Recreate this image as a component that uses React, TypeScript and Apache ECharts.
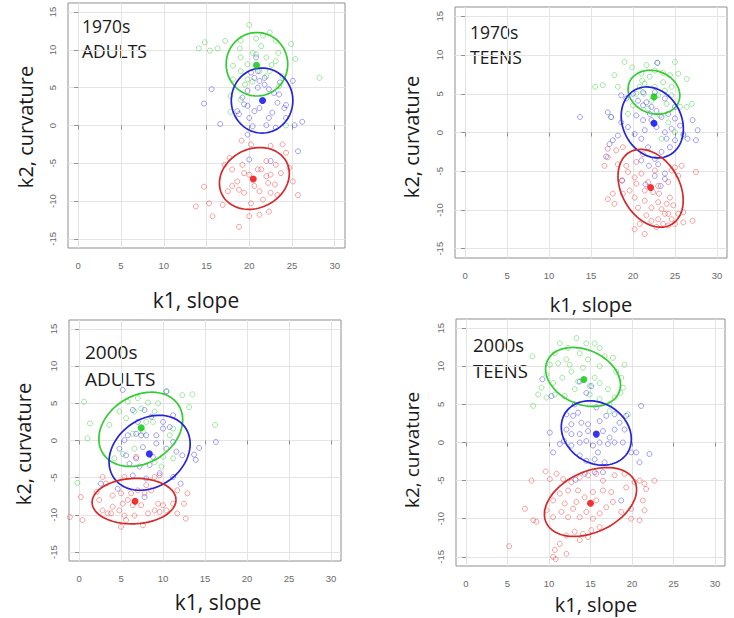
import React, { useEffect, useRef } from "react";
import * as echarts from "echarts";

// ---------- tick labels / texts ----------
const xTicks = [0, 5, 10, 15, 20, 25, 30];
const yTicks = [-15, -10, -5, 0, 5, 10, 15];
const panelDecades = ["1970s", "1970s", "2000s", "2000s"];
const panelGroups = ["ADULTS", "TEENS", "ADULTS", "TEENS"];
const xTitle = "k1, slope";
const yTitle = "k2, curvature";

// ---------- 1970s ADULTS ----------
const adults1970Green = [
  [20, 13.3], [14.1, 10.2], [14.8, 11], [15.4, 9.9], [16.3, 10.2], [17.2, 11.2], [18.9, 10.2],
  [22.4, 12.3], [21.6, 11.9], [23.1, 11.2], [24.9, 10.8], [25.4, 8.8], [28.2, 6.3], [19, 9],
  [19.8, 8.1], [20.4, 9.6], [20.8, 9.4], [22, 9], [22.6, 8], [21.2, 7.2], [22, 6.5], [19, 7.2],
  [18.1, 6.1], [17.8, 3.9], [17.8, 1.8], [19.5, 5.4], [23.5, 5.2], [23.9, 6.5], [24.3, 0],
  [19, 3.4], [19.8, 6.1], [23.1, 8.5], [21.4, 10.5], [18.1, 7.9], [20.4, 5.8], [22.4, 7.2],
  [23.4, 9.6], [19, 11.2], [20.8, 11.5],
];
const adults1970Blue = [
  [15.6, 4.8], [14.7, 2.9], [16.6, 0.2], [18.8, 1.5], [19.4, 2.8], [19.8, 2.6], [20, 1], [20.6, 1.9],
  [21.2, 2.3], [22.3, 1], [22.7, 1.7], [23.3, 3], [24.1, 2.3], [24.3, 1], [25.3, 0.04], [26.2, 0.5],
  [24.3, 2.7], [23.5, 4.1], [22.9, 4.3], [22.3, 4.8], [21.8, 5.4], [21.2, 5.9], [20.6, 6.3], [20.2, 7],
  [21, 7.2], [21.8, 6.3], [19.8, 4.6], [19.2, 3.7], [20.4, -0.1], [19.8, -1.2], [22, 0.04], [23.1, -0.3],
  [25.7, -3.4], [22.5, -4.7], [20, -4.5], [25.1, 5.9], [21, 5], [23.6, 5.7], [20.8, 9], [18.6, 1.9],
];
const adults1970Red = [
  [19.1, -2], [20.2, -2.5], [22.5, -2.7], [23.9, -2.5], [24.3, -3.6], [17.7, -4.3], [17.1, -5.2],
  [18, -5.8], [19.2, -5.2], [19.4, -6.3], [21.4, -5.8], [22, -4.7], [23.1, -5.2], [23.7, -6.3],
  [24.7, -5.6], [25.1, -7.4], [18.6, -7.4], [18.8, -8.5], [17.5, -8.7], [16.9, -10.5], [15.3, -10.3],
  [13.75, -10.7], [14.7, -8.1], [15.7, -12], [18.8, -13.4], [20, -12], [21.2, -11.8], [22.3, -11.4],
  [21.6, -9.8], [22.5, -8.9], [23.3, -9.2], [25.7, -9.2], [21.2, -8.7], [20.6, -8], [22.2, -7.6],
  [22, -6.7], [20, -6.5], [20.2, -10.3], [19.4, -8.9], [18, -8], [23, -7.8], [22.5, -6.5], [21, -5.8],
];
const adults1970Means = [[20.85, 7.97], [21.56, 3.3], [20.47, -7.08]];
// [centre x, centre y, semi-axis a, semi-axis b, angle of a in degrees]
const adults1970Ellipses = [[20.9, 8.1, 4.2, 3.6, 90], [21.5, 3.3, 4.3, 3.6, 90], [20.6, -7.0, 4.4, 3.75, 45]];

// ---------- 1970s TEENS ----------
const teens1970Green = [
  [19, 9.1], [19.9, 8.4], [22.9, 9], [25, 9.1], [21.6, 8.7], [17.8, 7.4], [18.2, 5.9], [15.5, 5.9],
  [16.4, 6.1], [21, 7.6], [22, 7.2], [23.6, 7.7], [24.4, 7.4], [25.4, 7.6], [26.4, 6.9], [23.6, 6.5],
  [22.6, 5.9], [21.4, 6.3], [20.4, 5], [23, 4.8], [24.6, 4.8], [25.6, 3.3], [26.4, 3.3], [27, 3.7],
  [24, 3.7], [22.2, 4.1], [21.8, 3.1], [23.2, 2.2], [24.2, 1.3], [19.4, 2.4], [20, 3.5], [24.6, 5.9],
  [22.6, 8], [20.8, 5.9], [25, 0.04], [26, -0.4], [23.4, -0.8], [21.3, 5], [23.8, 5.4], [21.1, 6.7],
  [17.4, 2],
];
const teens1970Blue = [
  [13.7, 2], [17, 2.6], [17.4, 2], [22.9, 9], [18.6, 4.8], [19.2, 4.4], [20, 5], [20.6, 4.1],
  [21.2, 3.5], [21.6, 3.9], [22.2, 3.3], [22, 2.4], [22.8, 2.8], [23.4, 2], [24.2, 2.4], [25, 1.8],
  [25.6, 0.9], [26, -0.2], [26.5, -0.8], [27.7, 0.3], [27.5, -1], [27.1, 1.6], [25, -1], [24.4, -1.9],
  [23.4, -2.5], [22.6, -3.4], [21.8, -1.9], [21, -0.8], [20.2, -0.2], [19.4, 0.7], [18.6, 1.3],
  [18.2, -0.4], [17.6, -1], [17.2, -1.5], [21, -3.6], [21.9, -4.3], [23, -4.1], [23.8, -5.3],
  [23.8, -6], [22.6, -5.6], [21.2, 1.6], [20.4, 2.2], [21.4, 0.3], [22.8, 0.7], [23.8, 0.04],
  [24, -0.8], [24.6, 0.5], [22.2, 1.6], [21.2, 5.2], [23.8, 4.4], [22.6, 5.2], [25, 3.3],
  [16.8, -3.1], [18.7, -6.2], [21.5, -6.7], [23.3, -6.9],
];
const teens1970Red = [
  [17, -2.1], [18, -2.3], [18.8, -1.9], [16.6, -4.3], [17, -3.2], [18.2, -4.1], [19.2, -4.3],
  [20.4, -3.8], [21.2, -2.8], [19.4, -5.1], [20.2, -5.8], [18.7, -6.2], [21, -5.3], [21.8, -6.4],
  [23, -6.9], [24.2, -6.4], [25, -4.5], [25.8, -4.3], [25.4, -5.6], [24.6, -4.9], [27.5, -5.1],
  [19.6, -7.5], [20.2, -8.4], [18.8, -7.9], [20.6, -9.7], [21.4, -8.8], [22.2, -9.7], [23, -9],
  [23.4, -9.9], [24, -9.2], [24.4, -8.4], [24.8, -9.4], [25.4, -10.5], [24.2, -10.5], [23, -11.2],
  [23.6, -11.8], [22.2, -11.4], [21.6, -10.7], [20.8, -11.8], [20.2, -12.5], [21.4, -13.1],
  [22.8, -12.2], [24.2, -12], [25, -11.8], [26, -11.6], [27.1, -11.4], [17.8, -9.2], [17.6, -7.9],
  [17, -8.6], [22.4, -7.7], [21.4, -7.5], [23.1, -7.9], [20.4, -6.6], [22.6, -4.9], [23.8, -10.5],
  [24.6, -11.2], [26, -10.3],
];
const teens1970Means = [[22.5, 4.6], [22.5, 1.2], [22.1, -7.1]];
const teens1970Ellipses = [[22.5, 5.2, 3.2, 2.7, 150], [22.3, 1.3, 4.7, 3.55, 110], [22.1, -7.2, 5.3, 3.5, 115]];

// ---------- 2000s ADULTS ----------
const adults2000Green = [
  [0.6, 5.2], [1.3, 2.3], [1, 0.3], [-0.2, -5.7], [3.6, 2.1], [5.8, 5.2], [7, 5.7], [8.2, 5.1],
  [9.4, 5], [10.4, 6.6], [12.3, 6.1], [13.5, 6.2], [13.1, 4.5], [16.2, 2.1], [11.2, 1.6], [10.8, 0.7],
  [9, 3.9], [8, 2.5], [6.6, 3.9], [5.6, 3], [10, -2.2], [11.2, -2.4], [9.8, -3.5], [9, -2.9],
  [6.6, -1.1], [5.2, -1.8], [4.2, -2.4], [6.4, 0.9], [7.4, 4.3], [8.8, 2.5], [7.6, 1.2], [4.8, 3.9],
];
const adults2000Blue = [
  [5.2, 6.8], [6.4, 4.1], [7.8, 4.1], [10.4, 6.6], [8.6, 3.2], [10, 2.5], [11.2, 3.4], [10.8, 1.8],
  [10, 1.6], [9.2, 0.7], [8, 0.7], [6.8, 0.9], [5.8, 0.7], [5.4, 0.04], [4.8, -1.1], [5.6, -2],
  [6.8, -2.4], [7.6, -0.9], [9.2, -0.4], [10.4, -1.1], [11.2, -0.2], [11.6, -1.5], [12.3, -2],
  [14.3, -1], [13.9, -2.6], [13.7, -1.9], [16.3, -0.2], [8.4, -3.3], [9.6, -4.4], [11.2, -4.9],
  [12.1, -5.8], [8, -5.1], [4.6, -6.5], [2.6, -5.8], [7.8, -7.6], [6.4, -4.7], [7.2, -3.5],
  [6, -3.1], [8.8, -2.2], [7, 2.5], [7.4, 0.7],
];
const adults2000Red = [
  [0.2, -7.6], [-1.1, -10.3], [0.4, -10.7], [2.1, -6.9], [3.2, -5.8], [2.4, -8], [2.8, -9.4],
  [3.4, -9.8], [4, -8.9], [4, -7.4], [5, -7.1], [5.2, -8.5], [4.8, -9.4], [5.4, -10.1], [5, -11.6],
  [5.8, -8], [6.4, -8.7], [6.2, -7.1], [7, -6.7], [8, -6], [9, -4.9], [9.6, -4.7], [8.6, -6.7],
  [7.8, -7.1], [7.4, -8.7], [8.2, -9.8], [9, -9.4], [9.4, -8.5], [10, -8.7], [10.4, -9.4], [9.6, -9.6],
  [11.2, -8.5], [11.7, -9.8], [12.7, -10.5], [12.5, -8.5], [12.9, -7.1], [11.7, -6.7], [6.6, -10.1],
  [7.6, -11.4], [5.6, -10.7], [3.8, -9.8], [6.8, -2.2], [5.4, -4.9], [2.8, -4.9],
];
const adults2000Means = [[7.4, 1.7], [8.37, -1.8], [6.67, -8.17]];
const adults2000Ellipses = [[7.35, 1.5, 5.6, 4.3, 45], [8.4, -1.65, 5.5, 4.3, 50], [6.55, -8.15, 5.0, 3.05, 3]];

// ---------- 2000s TEENS ----------
const teens2000Green = [
  [11.3, 13], [13.3, 13.7], [14.5, 13], [15.5, 13], [12.3, 12.4], [10.7, 11.7], [8, 11.3], [10.1, 10.2],
  [11.1, 10.4], [12.1, 10.9], [12.7, 9.3], [11.6, 8.5], [10.5, 7.8], [9.7, 8.9], [9.1, 7.2], [8.7, 6.3],
  [8.1, 4.8], [9.7, 5.9], [10.7, 6.3], [11.9, 6.1], [13.1, 7], [13.5, 8], [14.9, 7.4], [15.5, 8.5],
  [16.1, 7.8], [17.1, 7], [17.9, 5.9], [17.3, 5], [16.1, 5.7], [18.6, 6.5], [18.9, 7.2], [18.7, 8.5],
  [18.1, 9.3], [19.1, 10.2], [17.7, 11.1], [16.7, 11.3], [16.1, 10], [14.7, 10.9], [14.1, 9.8],
  [12.5, 10.2], [14.9, 6.3], [19.5, 3.7], [17.3, 4.1], [13.7, 11.7], [16.1, 12.4],
];
const teens2000Blue = [
  [9.2, 8.3], [10.3, 6.1], [13.7, 8], [15.1, 7.4], [14.5, 6.5], [12.1, 3.7], [12.9, 3.5], [13.5, 3.9],
  [12.7, 2.4], [13.9, 2.6], [14.7, 2.4], [16.1, 2.8], [16.9, 3.5], [17.9, 3.7], [18.5, 2.6], [19.1, 1.7],
  [17.9, 1.7], [17.3, 0.65], [16.5, 1.5], [14.7, 1.5], [13.7, 1.1], [12.7, 1.1], [12.1, 1.7], [11.8, 0.2],
  [12.7, -0.4], [13.7, 0], [14.5, 0.2], [15.3, -0.4], [16.1, 0], [17.1, -0.2], [17.9, 0], [18.9, 0],
  [19.9, -1.3], [20.5, -1.3], [22.1, -1.5], [20.9, -2.6], [10.5, -1.3], [10.1, 1.3], [11.3, -0.2],
  [13.7, -1.7], [14.5, -2.4], [15.5, -2.2], [16.7, -2.6], [15.9, -1.3], [15.5, -3.9], [14.3, -4.1],
  [16.5, -3.9], [18.7, -7.6], [13.2, -4.9], [19.3, 3.5], [21.1, 4.8], [13.1, 5], [15.7, 4.6],
];
const teens2000Red = [
  [7.9, -5], [9.6, -3.8], [10.1, -4.8], [10.9, -4.1], [11.7, -4.8], [12.7, -5.2], [13.7, -4.6],
  [14.7, -4.3], [15.7, -4.1], [16.5, -5], [17.9, -4.3], [19.1, -4.1], [19.3, -5.9], [20.3, -5.2],
  [20.9, -5], [21.5, -5.4], [21.7, -6.1], [22.7, -5], [21.3, -7.6], [21.5, -8.9], [20.9, -10.2],
  [19.9, -10], [19.9, -8.7], [18.7, -9.1], [17.7, -7.8], [16.9, -8.5], [16.1, -9.3], [15.7, -7.6],
  [14.3, -7.2], [13.5, -6.3], [12.3, -6.3], [11.3, -6.7], [10.5, -7.6], [9.7, -8.9], [10.5, -9.8],
  [11.5, -9.1], [12.3, -9.8], [12.9, -8.7], [13.7, -9.8], [14.5, -9.1], [15.3, -10], [16.1, -11.1],
  [15.1, -11.5], [14.1, -12], [13.1, -11.7], [12.1, -12.2], [13.7, -12.8], [14.7, -12.4], [11.3, -13.3],
  [10.7, -14.1], [10.5, -15], [10.8, -15.3], [12.1, -14.6], [5.2, -13.6], [7.1, -8.7], [8.1, -10.2],
  [8.5, -10.4], [16.5, -6.3], [17.5, -6.5], [15.3, -6.5], [13.3, -7.8], [11.9, -8],
];
const teens2000Means = [[14.2, 8.26], [15.7, 1.1], [15.0, -7.96]];
const teens2000Ellipses = [[14.1, 8.6, 4.8, 3.5, 150], [15.7, 1.25, 4.6, 3.8, 135], [15.0, -7.8, 6.0, 3.9, 30]];

// ---------- layout (pixels) ----------
const panelGrids = [
  { left: 68, top: 3, width: 277, height: 245 },
  { left: 455, top: 7, width: 272, height: 251 },
  { left: 69, top: 320, width: 272, height: 241 },
  { left: 456, top: 319, width: 269, height: 247 },
];
const xTitlePos = [[196, 300, 21], [591, 304, 20], [218, 602, 21], [596, 604, 20]];
const yTitlePos = [[25, 127, 20], [411, 137, 20], [23, 444, 20], [412, 450, 19]];
const labelPos = [[82, 38, 17.5], [470, 44, 17.5], [85, 365, 19], [473, 357, 18.5]];

const pointColors = ["rgba(40,200,40,0.55)", "rgba(40,40,230,0.55)", "rgba(240,40,40,0.55)"];
const lineColors = ["#33cc33", "#2424d8", "#d42a2a"];
const meanColors = ["#00c800", "#0000f0", "#f00000"];

const panels = [
  { pts: [adults1970Green, adults1970Blue, adults1970Red], means: adults1970Means, ell: adults1970Ellipses },
  { pts: [teens1970Green, teens1970Blue, teens1970Red], means: teens1970Means, ell: teens1970Ellipses },
  { pts: [adults2000Green, adults2000Blue, adults2000Red], means: adults2000Means, ell: adults2000Ellipses },
  { pts: [teens2000Green, teens2000Blue, teens2000Red], means: teens2000Means, ell: teens2000Ellipses },
];

function buildOption() {
  const grid: any[] = [];
  const xAxis: any[] = [];
  const yAxis: any[] = [];
  const series: any[] = [];
  const graphic: any[] = [];
  const boxColor = "#8f8f8f";
  const gridLine = "#e4e4e4";

  panels.forEach((p, i) => {
    grid.push({ ...panelGrids[i], show: true, borderColor: boxColor, borderWidth: 1, containLabel: false });
    xAxis.push({
      type: "value", gridIndex: i, min: -1.2, max: 31.2,
      axisLine: { show: false },
      axisTick: { show: true, inside: false, length: 4, customValues: xTicks, lineStyle: { color: boxColor } },
      axisLabel: { customValues: xTicks, color: "#6a6a6a", fontSize: 9.5, margin: 12, fontFamily: "Liberation Sans" },
      splitLine: { show: true, lineStyle: { color: gridLine, width: 1 } },
    });
    yAxis.push({
      type: "value", gridIndex: i, min: -16.2, max: 16.2,
      axisLine: { show: false },
      axisTick: { show: true, inside: false, length: 4, customValues: yTicks, lineStyle: { color: boxColor } },
      axisLabel: { customValues: yTicks, color: "#6a6a6a", fontSize: 9.5, margin: 11, rotate: 90, fontFamily: "Liberation Sans" },
      splitLine: { show: true, lineStyle: { color: gridLine, width: 1 } },
    });
    p.pts.forEach((arr, k) => {
      series.push({
        type: "scatter", xAxisIndex: i, yAxisIndex: i, data: arr, symbol: "circle", symbolSize: 5,
        itemStyle: { color: "rgba(0,0,0,0)", borderColor: pointColors[k], borderWidth: 1 },
        silent: true, z: 2,
      });
    });
    series.push({
      type: "custom", xAxisIndex: i, yAxisIndex: i, data: p.ell, encode: { x: 0, y: 1 }, z: 3, silent: true,
      renderItem: (params: any, api: any) => {
        const cx = api.value(0), cy = api.value(1), a = api.value(2), b = api.value(3);
        const th = (api.value(4) * Math.PI) / 180;
        const points: number[][] = [];
        for (let s = 0; s <= 90; s++) {
          const t = (s / 90) * Math.PI * 2;
          const x = cx + a * Math.cos(t) * Math.cos(th) - b * Math.sin(t) * Math.sin(th);
          const y = cy + a * Math.cos(t) * Math.sin(th) + b * Math.sin(t) * Math.cos(th);
          points.push(api.coord([x, y]));
        }
        return {
          type: "polyline", shape: { points },
          style: { stroke: lineColors[params.dataIndex], fill: "none", lineWidth: 1.7 },
        };
      },
    });
    series.push({
      type: "scatter", xAxisIndex: i, yAxisIndex: i, symbolSize: 7, z: 4, silent: true,
      data: p.means.map((m, k) => ({ value: m, itemStyle: { color: meanColors[k] } })),
    });

    graphic.push({
      type: "text", x: labelPos[i][0], y: labelPos[i][1],
      style: {
        text: panelDecades[i] + "\n" + panelGroups[i], fill: "#1a1a1a", fontSize: labelPos[i][2],
        fontFamily: "Open Sans", lineHeight: Math.round(labelPos[i][2] * 1.42), align: "left", verticalAlign: "middle",
      },
    });
    graphic.push({
      type: "text", x: xTitlePos[i][0], y: xTitlePos[i][1],
      style: { text: xTitle, fill: "#1a1a1a", fontSize: xTitlePos[i][2], fontFamily: "Open Sans", align: "center", verticalAlign: "middle" },
    });
    graphic.push({
      type: "text", x: yTitlePos[i][0], y: yTitlePos[i][1], rotation: Math.PI / 2,
      style: { text: yTitle, fill: "#1a1a1a", fontSize: yTitlePos[i][2], fontFamily: "Open Sans", align: "center", verticalAlign: "middle" },
    });
  });

  return { animation: false, backgroundColor: "#ffffff", grid, xAxis, yAxis, series, graphic };
}

export default function App() {
  const ref = useRef<HTMLDivElement>(null);
  useEffect(() => {
    if (!ref.current) return;
    const chart = echarts.init(ref.current, undefined, { renderer: "svg" });
    chart.setOption(buildOption() as any);
    return () => chart.dispose();
  }, []);
  return <div ref={ref} style={{ position: "absolute", left: 0, top: 0, width: 734, height: 618 }} />;
}
